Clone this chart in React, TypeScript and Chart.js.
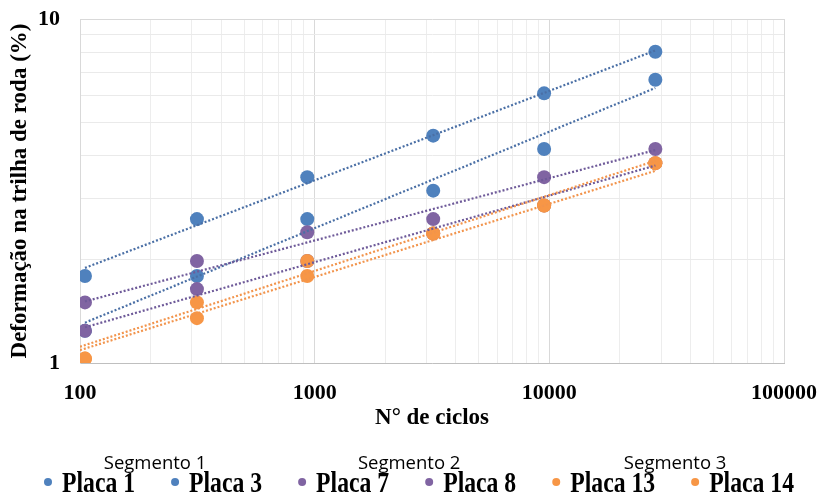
import { useEffect, useRef } from 'react';
import { Chart, registerables } from 'chart.js';

Chart.register(...registerables);

// ---- data ----
const seriesNames = ['Placa 1', 'Placa 3', 'Placa 7', 'Placa 8', 'Placa 13', 'Placa 14'];
const segmentNames = ['Segmento 1', 'Segmento 2', 'Segmento 3'];
const cycles = [105, 315, 930, 3200, 9500, 28300];
const placa1 = [1.79, 2.62, 3.47, 4.58, 6.08, 8.03];
const placa3 = [1.24, 1.79, 2.62, 3.17, 4.19, 6.66];
const placa7 = [1.5, 1.98, 2.4, 2.62, 3.47, 4.19];
const placa8 = [1.24, 1.64, 1.98, 2.38, 2.87, 3.81];
const placa13 = [1.03, 1.5, 1.98, 2.38, 2.87, 3.81];
const placa14 = [1.03, 1.35, 1.79, 2.38, 2.87, 3.81];
// power trend lines (start / end values)
const trendFromX = [105, 105, 105, 105, 100, 100];
const trendToX = [28300, 28300, 28300, 28300, 28300, 28300];
const trendFrom = [1.89, 1.31, 1.51, 1.27, 1.115, 1.09];
const trendTo = [8.1, 6.3, 4.16, 3.75, 3.87, 3.62];
const xTickLabels = [100, 1000, 10000, 100000];
const yTickLabels = [1, 10];

const seriesValues = [placa1, placa3, placa7, placa8, placa13, placa14];
const pointColors = ['#4F81BD', '#4F81BD', '#8064A2', '#8064A2', '#F79646', '#F79646'];
const trendColors = ['#4A6FA5', '#4A6FA5', '#6E5A99', '#6E5A99', '#F2944C', '#F2944C'];

const SERIF = '"Liberation Serif", "Times New Roman", serif';

function decadeTicks(decades: number[]) {
  const out: { value: number }[] = [];
  for (let d = 0; d < decades.length - 1; d++) {
    for (let m = 1; m <= 9; m++) out.push({ value: decades[d] * m });
  }
  out.push({ value: decades[decades.length - 1] });
  return out;
}

const legendPlugin = {
  id: 'segmentLegend',
  afterDraw(chart: any) {
    const ctx = chart.ctx as CanvasRenderingContext2D;
    ctx.save();
    const sx = 0.79;
    const textFont = `bold 30px ${SERIF}`;
    const baseY = 492;
    const markerY = 482;
    let x = 48;
    const spans: number[][] = [];
    seriesNames.forEach((name, i) => {
      ctx.fillStyle = pointColors[i];
      ctx.beginPath();
      ctx.arc(x, markerY, 4, 0, Math.PI * 2);
      ctx.fill();
      ctx.font = textFont;
      const w = ctx.measureText(name).width * sx;
      ctx.save();
      ctx.translate(x + 14, baseY);
      ctx.scale(sx, 1);
      ctx.fillStyle = '#000';
      ctx.textBaseline = 'alphabetic';
      ctx.textAlign = 'left';
      ctx.fillText(name, 0, 0);
      ctx.restore();
      const g = Math.floor(i / 2);
      if (!spans[g]) spans[g] = [x, x + 14 + w];
      else spans[g][1] = x + 14 + w;
      x += 14 + w + 40;
    });
    ctx.font = '18.5px "Open Sans", sans-serif';
    ctx.fillStyle = '#000';
    ctx.textAlign = 'center';
    ctx.textBaseline = 'alphabetic';
    segmentNames.forEach((s, g) => {
      const c = (spans[g][0] + spans[g][1]) / 2;
      ctx.fillText(s, c, 469);
    });
    ctx.restore();
  },
};

export default function App() {
  const ref = useRef<HTMLCanvasElement>(null);
  useEffect(() => {
    document.body.style.margin = '0';
    const canvas = ref.current;
    if (!canvas) return;

    const scatterSets = seriesNames.map((name, i) => ({
      type: 'scatter' as const,
      label: name,
      data: cycles.map((c, k) => ({ x: c, y: seriesValues[i][k] })),
      backgroundColor: pointColors[i],
      borderWidth: 0,
      pointRadius: 7,
      pointHoverRadius: 7,
      showLine: false,
      order: 20 - i,
    }));
    const trendSets = seriesNames.map((name, i) => ({
      type: 'scatter' as const,
      label: name + ' trend',
      data: [
        { x: trendFromX[i], y: trendFrom[i] },
        { x: trendToX[i], y: trendTo[i] },
      ],
      borderColor: trendColors[i],
      borderWidth: 2.2,
      borderDash: [2, 2],
      pointRadius: 0,
      showLine: true,
      fill: false,
      order: 5 - i,
    }));

    const chart = new Chart(canvas, {
      type: 'scatter',
      data: { datasets: [...scatterSets, ...trendSets] as any },
      options: {
        animation: false,
        responsive: false,
        devicePixelRatio: 1,
        layout: { padding: { top: 19, right: 36, left: 0, bottom: 0 } },
        plugins: {
          legend: { display: false },
          tooltip: { enabled: false },
        },
        scales: {
          x: {
            type: 'logarithmic',
            min: 100,
            max: 100000,
            afterBuildTicks: (scale: any) => {
              scale.ticks = decadeTicks(xTickLabels);
            },
            afterFit: (scale: any) => {
              scale.height = 132;
              scale.paddingLeft = 0;
              scale.paddingRight = 0;
              scale.paddingTop = 0;
              scale.paddingBottom = 0;
            },
            ticks: {
              autoSkip: false,
              maxRotation: 0,
              padding: 17,
              color: '#000',
              font: { family: SERIF, size: 22, weight: 'bold' },
              callback: (v: any) => (xTickLabels.includes(Number(v)) ? String(v) : ''),
            },
            grid: {
              drawTicks: false,
              color: (c: any) =>
                c.tick && xTickLabels.includes(c.tick.value) ? '#D9D9D9' : '#EDEDED',
              lineWidth: 1,
            },
            border: { color: '#BFBFBF', width: 1 },
            title: {
              display: true,
              text: 'N° de ciclos',
              color: '#000',
              font: { family: SERIF, size: 23, weight: 'bold' },
              padding: { top: 0, bottom: 63 },
            },
          },
          y: {
            type: 'logarithmic',
            min: 1,
            max: 10,
            afterBuildTicks: (scale: any) => {
              scale.ticks = decadeTicks(yTickLabels);
            },
            afterFit: (scale: any) => {
              scale.width = 80;
              scale.paddingLeft = 0;
              scale.paddingRight = 0;
              scale.paddingTop = 0;
              scale.paddingBottom = 0;
            },
            ticks: {
              autoSkip: false,
              padding: 20,
              color: '#000',
              font: { family: SERIF, size: 22, weight: 'bold' },
              callback: (v: any) => (yTickLabels.includes(Number(v)) ? String(v) : ''),
            },
            grid: {
              drawTicks: false,
              color: (c: any) => (c.tick && c.tick.value === 10 ? '#D9D9D9' : '#EAEAEA'),
              lineWidth: 1,
            },
            border: { color: '#D9D9D9', width: 1 },
            title: {
              display: true,
              text: 'Deformação na trilha de roda (%)',
              color: '#000',
              font: { family: SERIF, size: 23, weight: 'bold' },
              padding: { top: 6, bottom: 0 },
            },
          },
        },
      },
      plugins: [legendPlugin],
    });
    return () => chart.destroy();
  }, []);

  return (
    <div style={{ width: 820, height: 495, background: '#fff' }}>
      <canvas ref={ref} width={820} height={495} />
    </div>
  );
}
